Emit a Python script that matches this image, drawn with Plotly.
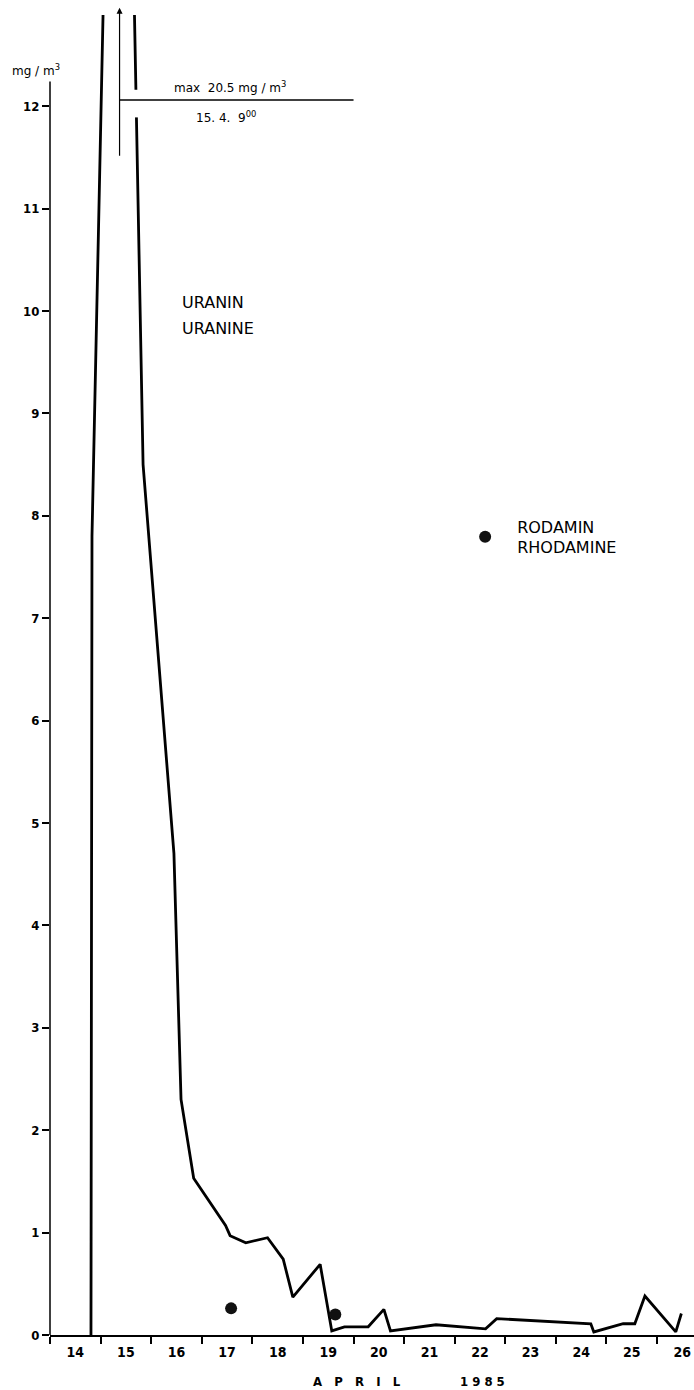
import plotly.graph_objects as go

# ---- data ----
uranine_day = [14.81, 14.83, 15.375, 15.84, 16.45, 16.59, 16.84, 17.47, 17.56, 17.87,
               18.30, 18.61, 18.80, 19.34, 19.57, 19.82, 20.29, 20.60, 20.73, 21.63,
               22.61, 22.83, 24.69, 24.75, 25.33, 25.56, 25.76, 26.37, 26.48]
uranine_val = [0.0, 7.8, 20.5, 8.5, 4.7, 2.3, 1.53, 1.07, 0.97, 0.90,
               0.95, 0.74, 0.37, 0.69, 0.04, 0.08, 0.08, 0.25, 0.04, 0.10,
               0.06, 0.16, 0.11, 0.03, 0.11, 0.11, 0.38, 0.03, 0.21]
rhodamine_day = [17.58, 19.64]
rhodamine_val = [0.26, 0.20]

day_ticks = list(range(14, 27))
day_labels = [str(d) for d in day_ticks]
y_ticks = list(range(0, 13))

peak_day = 15.375   # 15.4. 9:00
peak_val = 20.5

FONT = "Liberation Sans Narrow, DejaVu Sans Condensed, Arial Narrow, sans-serif"
TXT = "DejaVu Sans, Verdana, sans-serif"

fig = go.Figure()
fig.add_trace(go.Scatter(x=uranine_day, y=uranine_val, mode="lines",
                         line=dict(color="black", width=2.8), showlegend=False,
                         name="URANIN"))
fig.add_trace(go.Scatter(x=rhodamine_day, y=rhodamine_val, mode="markers",
                         marker=dict(color="#111111", size=12, line=dict(width=0)),
                         name="RODAMIN<br>RHODAMINE", showlegend=True))

fig.update_layout(
    width=694, height=1390,
    margin=dict(l=50, r=0, t=15, b=55),
    paper_bgcolor="white", plot_bgcolor="white",
    showlegend=True,
    legend=dict(x=0.626, y=0.6045, xanchor="left", yanchor="middle",
                bgcolor="rgba(0,0,0,0)", borderwidth=0, itemwidth=54,
                font=dict(family=TXT, size=16, color="black")),
    xaxis=dict(range=[14, 26.73], showgrid=False, zeroline=False,
               showline=True, linecolor="black", linewidth=2,
               tickmode="array", tickvals=[d + 0.5 for d in day_ticks], ticktext=day_labels,
               ticks="", ticklabelstandoff=3,
               tickfont=dict(family=FONT, size=14, color="black", weight="bold"),
               minor=dict(tick0=14, dtick=1, ticks="outside", ticklen=7,
                          tickwidth=1.5, tickcolor="black", showgrid=False)),
    yaxis=dict(range=[0, 12.89], showgrid=False, zeroline=False, showline=False,
               tickmode="array", tickvals=y_ticks, ticktext=[str(v) for v in y_ticks],
               ticks="outside", ticklen=7, tickwidth=1.5, tickcolor="black",
               tickfont=dict(family=FONT, size=13, color="black", weight="bold")),
)

# y axis line (stops below the top of the plot, like the reference)
fig.add_shape(type="line", xref="paper", yref="y", x0=0, x1=0, y0=0, y1=12.24,
              line=dict(color="black", width=1.5), layer="above")
# gap in the descending curve where the max line crosses
fig.add_shape(type="rect", xref="x", yref="y", x0=15.60, x1=15.80, y0=11.89, y1=12.16,
              fillcolor="white", line=dict(width=0), layer="above")
# horizontal line of the max annotation
fig.add_shape(type="line", xref="x", yref="y", x0=peak_day, x1=20.0, y0=12.06, y1=12.06,
              line=dict(color="black", width=1.5), layer="above")

# arrow pointing to the (off-scale) maximum
fig.add_annotation(x=peak_day, y=12.96, ax=peak_day, ay=11.5, xref="x", yref="y",
                   axref="x", ayref="y", showarrow=True, arrowhead=2, arrowsize=1,
                   arrowwidth=1.2, arrowcolor="black", text="")

fig.add_annotation(x=16.41, y=12.085, xref="x", yref="y", xanchor="left", yanchor="bottom",
                   text=f"max  {peak_val} mg / m<sup>3</sup>", showarrow=False,
                   font=dict(family=TXT, size=12, color="black"))
fig.add_annotation(x=16.85, y=11.99, xref="x", yref="y", xanchor="left", yanchor="top",
                   text="15. 4.  9<sup>00</sup>", showarrow=False,
                   font=dict(family=TXT, size=12, color="black"))

# series labels
fig.add_annotation(x=16.57, y=(1335 - 303) / 102.4, xref="x", yref="y", xanchor="left",
                   yanchor="middle", text="URANIN", showarrow=False,
                   font=dict(family=TXT, size=16, color="black"))
fig.add_annotation(x=16.57, y=(1335 - 329) / 102.4, xref="x", yref="y", xanchor="left",
                   yanchor="middle", text="URANINE", showarrow=False,
                   font=dict(family=TXT, size=16, color="black"))

# unit label
fig.add_annotation(x=-0.062, y=0.958, xref="paper", yref="paper", xanchor="left",
                   yanchor="middle", text="mg / m<sup>3</sup>", showarrow=False,
                   font=dict(family=TXT, size=12, color="black"))

# axis title
fig.add_annotation(x=0.477, y=-0.0355, xref="paper", yref="paper", xanchor="center",
                   yanchor="middle", text="A   P   R   I   L", showarrow=False,
                   font=dict(family=FONT, size=13, color="black", weight="bold"))
fig.add_annotation(x=0.671, y=-0.0355, xref="paper", yref="paper", xanchor="center",
                   yanchor="middle", text="1 9 8 5", showarrow=False,
                   font=dict(family=FONT, size=13, color="black", weight="bold"))

fig.write_html("out.html", config={"displayModeBar": False},
               post_script="document.body.style.margin='0';document.body.style.overflow='hidden';")
